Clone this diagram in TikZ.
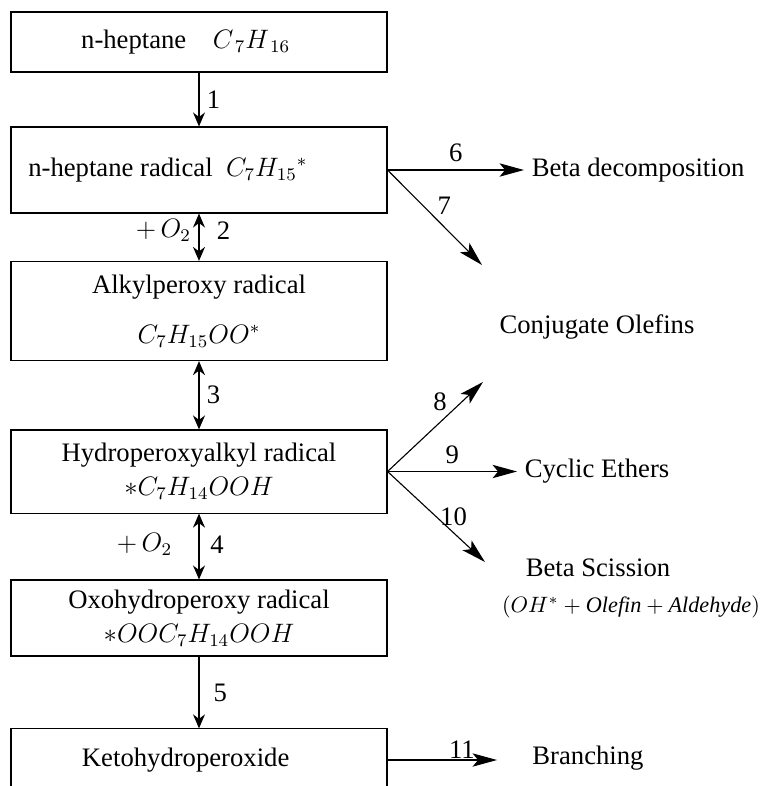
\documentclass[tikz,border=0pt]{standalone}
\usepackage{fontspec}
\setmainfont{Liberation Serif}
\usetikzlibrary{arrows.meta}

\tikzset{
  prod/.style={-{Stealth[length=11pt,width=6pt,inset=2.5pt]}},
}

\begin{document}
\begin{tikzpicture}[x=0.45pt,y=-0.45pt,font=\fontsize{12}{14.4}\selectfont,
    >={Stealth[length=6.3pt,width=5.4pt]}]
          \path[use as bounding box,clip] (0,0) rectangle (765,786);

          \begin{scope}[every node/.style={draw,line width=0.5pt,minimum width=169.2pt,align=center}]
            \node (b1) [minimum height=27pt]   at (199,42)    {n-heptane\quad $C_{\,7}H_{\,16}$\hspace*{12pt}};
            \node (b2) [minimum height=38.7pt] at (199,170)   {n-heptane radical\ \ $C_7H_{15}{}^{*}$\hspace*{28pt}};
            \node (b3) [minimum height=44.6pt] at (199,311)   {Alkylperoxy radical\\[8pt]$C_7H_{15}OO^{*}$};
            \node (b4) [minimum height=37.4pt] at (199,471.5) {Hydroperoxyalkyl radical\\[1pt]${\ast}C_7H_{14}OOH$};
            \node (b5) [minimum height=34.2pt] at (199,618)   {Oxohydroperoxy radical\\[1pt]${\ast}OOC_7H_{14}OOH$};
            \node (b6) [minimum height=28pt]   at (199,760)   {Ketohydroperoxide\hspace*{12pt}};
          \end{scope}

          \node (bd)  [anchor=west] at (524,170) {Beta decomposition};
          \node (co)  at (597,327) {Conjugate Olefins};
          \node (ce)  [anchor=west] at (517,471.5) {Cyclic Ethers};
          \node (bs)  at (598,568) {Beta Scission};
          \node (ohs) at (631,607) {\fontsize{10}{12}\selectfont $\left(OH^{*}+\mathit{Olefin}+\mathit{Aldehyde}\right)$};
          \node (br)  at (588,758) {Branching};

          \coordinate (e7)  at (482,265);
          \coordinate (e8)  at (483,382);
          \coordinate (e10) at (485,562);
          \coordinate (e11) at (497,760);

          \begin{scope}[every edge/.style={draw,line width=0.5pt}]
            \path (b1) edge[->]  node[right] {1} (b2);
            \path (b2) edge[<->] node[right,xshift=4.5pt,yshift=3pt] {2}
                                 node[left,yshift=3pt] {$+\,O_2$} (b3);
            \path (b3) edge[<->] node[right] {3} (b4);
            \path (b4) edge[<->] node[right,xshift=1.5pt,yshift=1pt] {4}
                                 node[left,xshift=-8.5pt,yshift=1pt] {$+\,O_2$} (b5);
            \path (b5) edge[->]  node[right,xshift=3pt] {5} (b6);

            \path (b2.east) edge[prod] node[above] {6} (bd.west);
            \path (b2.east) edge[prod] node[midway,above right,inner sep=1pt] {7} (e7);
            \path (b4.east) edge[prod] node[pos=0.65,above left,inner sep=1pt] {8} (e8);
            \path (b4.east) edge[prod] node[above] {9} (ce.west);
            \path (b4.east) edge[prod] node[midway,right,inner sep=1.5pt] {10} (e10);
            \path (b6.east) edge[prod] node[pos=0.68,above,inner sep=0.5pt] {11} (e11);
          \end{scope}

        \end{tikzpicture}
\end{document}
